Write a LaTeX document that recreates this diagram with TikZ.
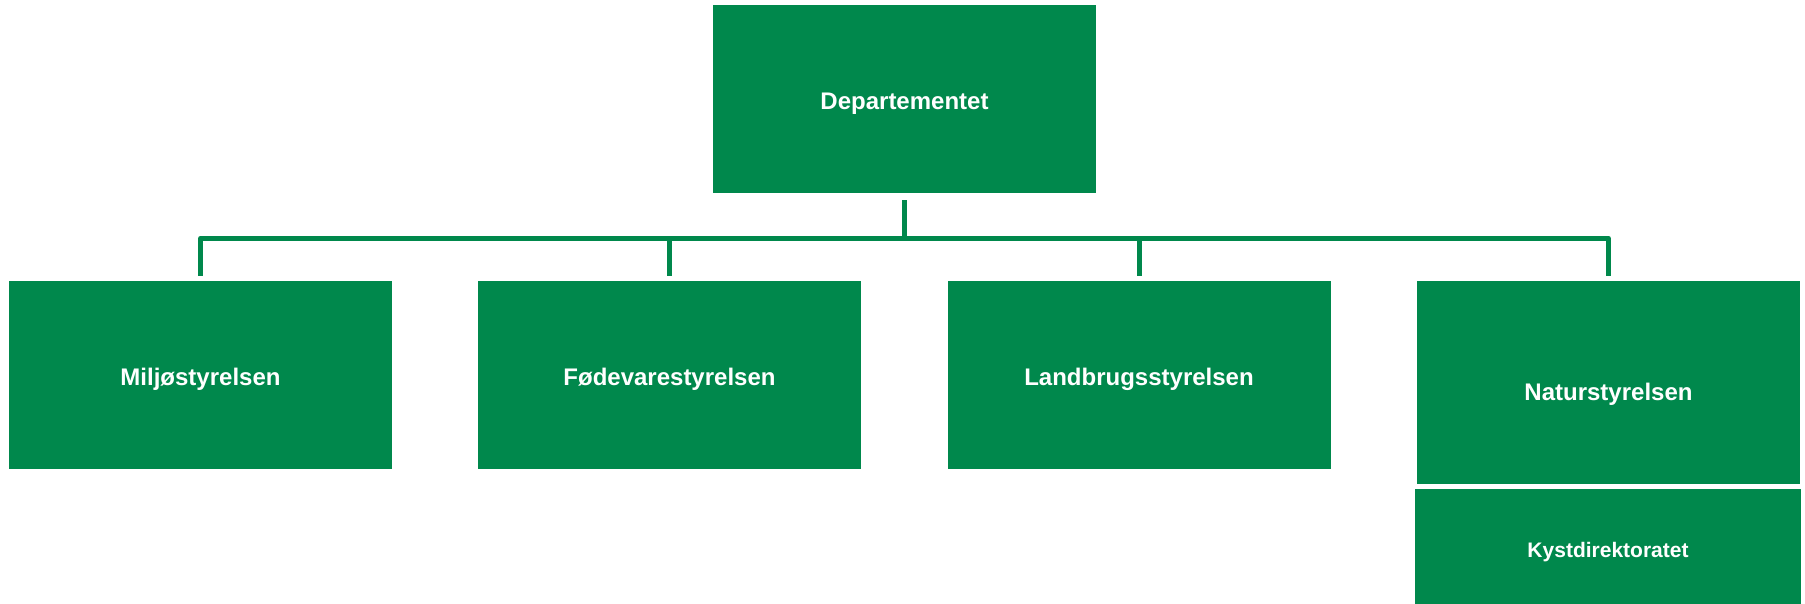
\documentclass[tikz,border=0pt]{standalone}
\usepackage{fontspec}
\setmainfont{Liberation Sans}
\usepackage{tikz}
\definecolor{mstgreen}{RGB}{0,136,76}

\begin{document}
\begin{tikzpicture}[x=0.5pt,y=-0.5pt,
                unit/.style={fill=mstgreen, text=white, inner sep=0pt, minimum width=191.5pt, minimum height=94pt, text height=12.8pt, text depth=2.5pt, font=\bfseries\fontsize{12}{14}\selectfont},
                conn/.style={draw=mstgreen, line width=2.5pt, line join=round, shorten <=3.5pt, shorten >=2.5pt}]
                \useasboundingbox (0,0) rectangle (1805,604);
                \node [unit] (dept) at (904.5,99) {Departementet};
                \node [unit] (milj) at (200.5,375) {Miljøstyrelsen};
                \node [unit] (fode) at (669.5,375) {Fødevarestyrelsen};
                \node [unit] (land) at (1139,375) {Landbrugsstyrelsen};
                \node [unit, minimum height=101.5pt, text height=20.5pt] (natur) at (1608.5,382.5) {Naturstyrelsen};
                \node [unit, minimum width=193pt, minimum height=59pt, text height=11.6pt, text depth=2.2pt, font=\bfseries\fontsize{10.5}{12}\selectfont] (kyst) at (1608,548) {Kystdirektoratet};
                \foreach \sub in {milj,fode,land,natur}
                    \draw [conn] (dept.south) -- ++(0,45) -| (\sub.north);
            \end{tikzpicture}
\end{document}
